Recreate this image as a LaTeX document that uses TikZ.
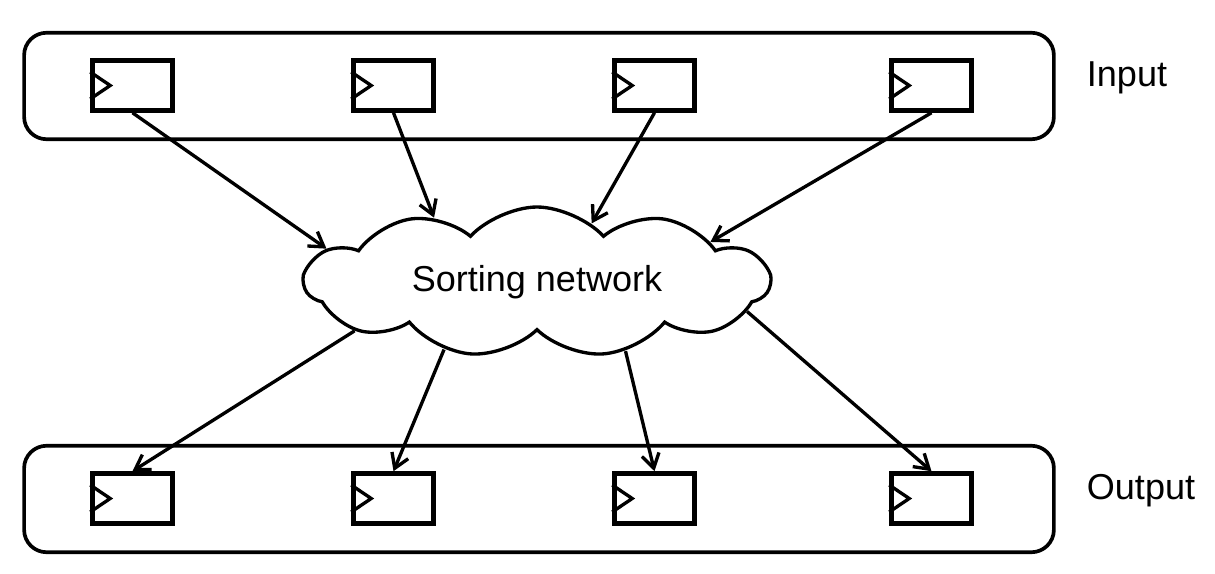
\documentclass[tikz,border=0pt]{standalone}
\usepackage{fontspec}
\setmainfont{Liberation Sans}
\usetikzlibrary{shapes.symbols,arrows.meta}

\begin{document}
\begin{tikzpicture}[
            x = 0.02cm, y = -0.02cm, % one unit per pixel
            > = {Straight Barb[length=8pt,width=10pt]}, % arrow head style
            font = \fontsize{20.5}{24}\selectfont,
            bus/.style = {draw, line width=2.1pt, rounded corners=0.45cm,
                          minimum width=20.6cm, minimum height=2.13cm},
            reg/.style = {draw, line width=2.6pt, minimum width=1.6cm,
                          minimum height=1.0cm},
            link/.style = {->, line width=1.9pt}
        ]
\useasboundingbox (0,0) rectangle (1215,574);

\node[bus] (inbus) at (539,86) {};
\node[bus] (outbus) at (539,499) {};
\node (inlabel) at (1127,78) {Input};
\node (outlabel) at (1141,491) {Output};

% registers with clock marks
\foreach \i/\x in {1/132.5,2/393.5,3/654.5,4/931.5} {
    \node[reg] (in\i) at (\x,85.5) {};
    \node[reg] (out\i) at (\x,498.5) {};
    \draw[line width=1.9pt] ([yshift=0.27cm]in\i.west) -- ([xshift=0.4cm]in\i.west)
        -- ([yshift=-0.27cm]in\i.west);
    \draw[line width=1.9pt] ([yshift=0.27cm]out\i.west) -- ([xshift=0.4cm]out\i.west)
        -- ([yshift=-0.27cm]out\i.west);
}

\node[cloud, draw, line width=1.9pt, cloud puffs=11, cloud puff arc=95,
      aspect=3.2, minimum width=9.3cm, minimum height=2.9cm,
      inner sep=0pt] (sort) at (537,282) {\raisebox{3pt}{Sorting network}};

 \draw[link] (in1.south) -- (sort.171);
 \draw[link] (in2.south) -- (sort.148);
 \draw[link] (in3.south) -- (sort.47);
 \draw[link] (in4.south) -- (sort.13);
 \draw[link] (sort.195) -- (out1.north);
 \draw[link] (sort.216) -- (out2.north);
 \draw[link] (sort.322) -- (out3.north);
 \draw[link] (sort.352) -- (out4.north);
\end{tikzpicture}
\end{document}
